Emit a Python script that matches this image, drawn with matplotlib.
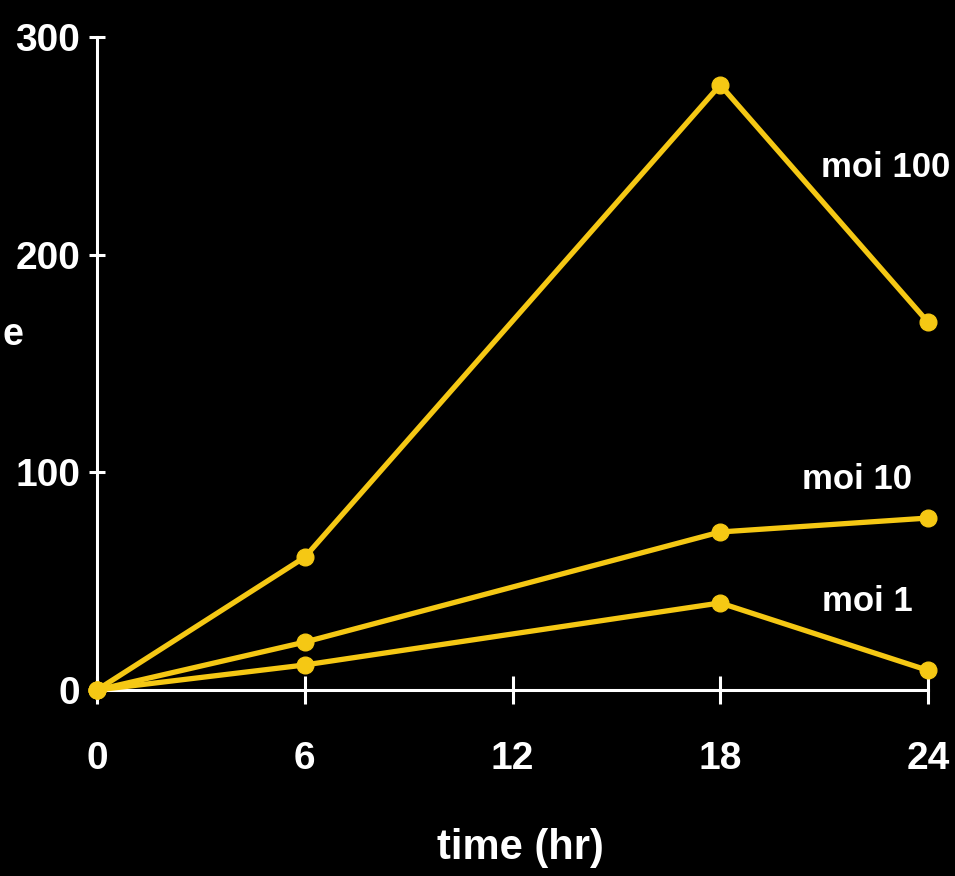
import matplotlib
matplotlib.use("Agg")
import matplotlib.pyplot as plt

# time points (hours) and responses for each multiplicity of infection
hours = [0, 6, 18, 24]
moi_100 = [0, 61, 278, 169]
moi_10 = [0, 22, 72.6, 79]
moi_1 = [0, 11.5, 40, 9]
series_labels = ["moi 100", "moi 10", "moi 1"]

x_ticks = [0, 6, 12, 18, 24]
y_ticks = [0, 100, 200, 300]

W, H = 955, 876
fig = plt.figure(figsize=(W / 100, H / 100), dpi=100, facecolor="black")
ax = fig.add_axes([97 / W, 1 - 690 / H, (928 - 97) / W, (690 - 37) / H])
ax.set_facecolor("black")

yellow = "#f5c814"
font = dict(family="Liberation Sans", weight="bold", color="white")

for vals in (moi_100, moi_10, moi_1):
    ax.plot(hours, vals, color=yellow, lw=3.8, marker="o", ms=12,
            mec=yellow, mfc=yellow, clip_on=False, zorder=3)

ax.set_xlim(0, 24)
ax.set_ylim(0, 300)

for side in ("top", "right"):
    ax.spines[side].set_visible(False)
for side in ("left", "bottom"):
    ax.spines[side].set_color("white")
    ax.spines[side].set_linewidth(2.2)

ax.set_xticks(x_ticks)
ax.set_yticks(y_ticks)
ax.set_xticklabels([str(t) for t in x_ticks], fontsize=28, **font)
ax.set_yticklabels([str(t) for t in y_ticks], fontsize=28, **font)
ax.tick_params(axis="x", direction="inout", length=20, width=2.2,
               color="white", pad=27)
ax.tick_params(axis="y", direction="inout", length=12, width=2.2,
               color="white", pad=6)

# series labels beside their curves
ax.text(24.65, 240, series_labels[0], ha="right", va="center",
        fontsize=25, clip_on=False, **font)
ax.text(23.55, 96.5, series_labels[1], ha="right", va="center",
        fontsize=25, clip_on=False, **font)
ax.text(23.55, 40.5, series_labels[2], ha="right", va="center",
        fontsize=25, clip_on=False, **font)

fig.text(520 / W, 1 - 848 / H, "time (hr)", ha="center", va="center",
         fontsize=30, **font)
fig.text(2 / W, 1 - 335 / H, "e", ha="left", va="center",
         fontsize=27, **font)

fig.savefig("out.png", dpi=100, facecolor="black")
